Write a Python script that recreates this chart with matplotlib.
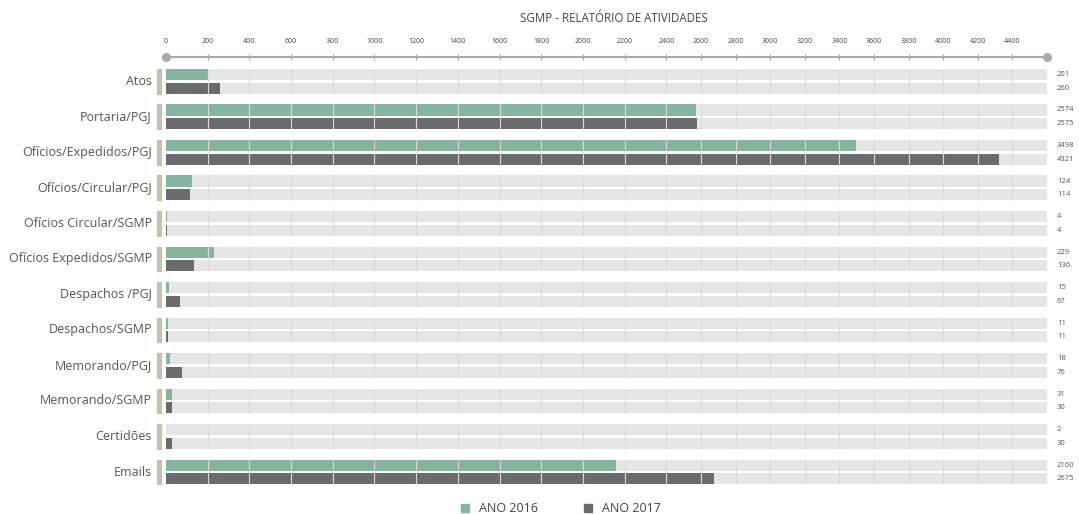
import numpy as np
import matplotlib
matplotlib.use("Agg")
import matplotlib.pyplot as plt
from matplotlib.patches import Rectangle
from matplotlib.lines import Line2D

plt.rcParams['font.family'] = ['Open Sans', 'DejaVu Sans']

# dados
categorias = ["Atos", "Portaria/PGJ", "Ofícios/Expedidos/PGJ", "Ofícios/Circular/PGJ",
              "Ofícios Circular/SGMP", "Ofícios Expedidos/SGMP", "Despachos /PGJ",
              "Despachos/SGMP", "Memorando/PGJ", "Memorando/SGMP", "Certidões", "Emails"]
ano_2016 = [201, 2574, 3498, 124, 4, 229, 15, 11, 18, 31, 2, 2160]
ano_2017 = [260, 2575, 4321, 114, 4, 136, 67, 11, 76, 30, 30, 2675]
ticks = list(range(0, 4401, 200))
x_max = 4600

verde = '#85b59f'
cinza = '#6b6b6e'
fundo = '#e6e6e6'
bege = '#c5c2b0'

# escala em dois trechos (acima de 2400 mais comprimida, como no original)
K = 0.83
def fwd(x):
    x = np.asarray(x, dtype=float)
    return np.where(x <= 2400, x, 2400 + (x - 2400) * K)

def inv(y):
    y = np.asarray(y, dtype=float)
    return np.where(y <= 2400, y, 2400 + (y - 2400) / K)

W, H = 1079, 514
fig = plt.figure(figsize=(W / 100, H / 100), dpi=100)
ax = fig.add_axes([166 / W, 1 - 490 / H, 881 / W, (490 - 56.5) / H])
ax.set_xscale('function', functions=(fwd, inv))
ax.set_xlim(0, x_max)
ax.set_ylim(11.507, -0.704)

n = len(categorias)
y = np.arange(n)
off = 0.197
h = 0.31

ax.barh(y - off, x_max, height=h, color=fundo, zorder=1)
ax.barh(y + off, x_max, height=h, color=fundo, zorder=1)
ax.barh(y - off, ano_2016, height=h, color=verde, zorder=2)
ax.barh(y + off, ano_2017, height=h, color=cinza, zorder=2)

# linhas de grade só dentro das barras
for i in y:
    ax.vlines(ticks[1:], i - off - h / 2, i + off + h / 2, color='#dadada', lw=0.8, zorder=3)

tr = ax.get_yaxis_transform()
for i, cat in enumerate(categorias):
    ax.text(-0.0159, i, cat, transform=tr, ha='right', va='center', fontsize=9, color='#555555')
    ax.add_patch(Rectangle((-0.0102, i - off - h / 2), 0.0045, 2 * off + h, transform=tr,
                           color=bege, clip_on=False, zorder=2))
    ax.text(1.0114, i - off, str(ano_2016[i]), transform=tr, ha='left', va='center',
            fontsize=5.5, color='#555555')
    ax.text(1.0114, i + off, str(ano_2017[i]), transform=tr, ha='left', va='center',
            fontsize=5.5, color='#555555')

# eixo superior
for s in ['left', 'right', 'bottom']:
    ax.spines[s].set_visible(False)
ax.spines['top'].set_color('#aaaaaa')
ax.spines['top'].set_linewidth(1.5)
ax.xaxis.tick_top()
ax.set_xticks(ticks)
ax.set_xticklabels([str(t) for t in ticks])
ax.tick_params(axis='x', direction='inout', length=4, width=0.7, color='#999999',
               labelsize=5, labelcolor='#444444', pad=6)
ax.set_yticks([])
ax.plot([0, x_max], [-0.704, -0.704], 'o', color='#aaaaaa', ms=5.5, clip_on=False, zorder=5)

fig.text(614 / W, 1 - 18 / H, 'SGMP - RELATÓRIO DE ATIVIDADES', ha='center', va='center',
         fontsize=8.3, color='#444444')

handles = [Line2D([], [], marker='s', ls='', color=verde, ms=6),
           Line2D([], [], marker='s', ls='', color=cinza, ms=6)]
fig.legend(handles, ['ANO 2016', 'ANO 2017'], loc='center', bbox_to_anchor=(560 / W, 1 - 509 / H),
           ncol=2, frameon=False, fontsize=9, handlelength=1, handletextpad=0.6,
           columnspacing=3.5, labelcolor='#444444')

plt.savefig('out.png', dpi=100)
